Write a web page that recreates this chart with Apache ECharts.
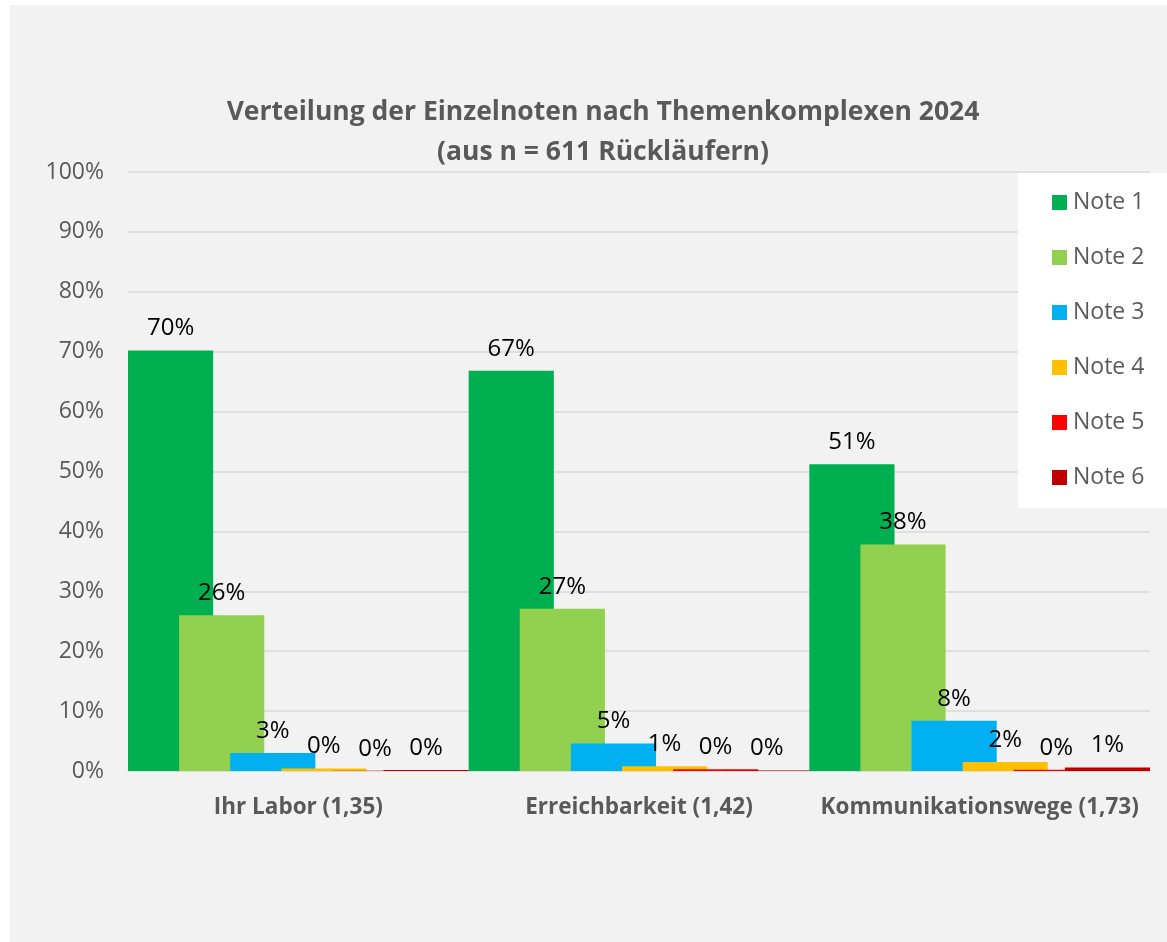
<!DOCTYPE html>
<html>
<head>
<meta charset="utf-8">
<script src="https://cdn.jsdelivr.net/npm/echarts@6/dist/echarts.min.js"></script>
<style>
html,body{margin:0;padding:0;background:#ffffff;}
#chart{position:absolute;left:10px;top:5px;width:1157px;height:937px;background:#f2f2f2;}
</style>
</head>
<body>
<div id="chart"></div>
<script>
const titleLines = ['Verteilung der Einzelnoten nach Themenkomplexen 2024', '(aus n = 611 Rückläufern)'];
const categories = ['Ihr Labor (1,35)', 'Erreichbarkeit (1,42)', 'Kommunikationswege (1,73)'];
const seriesNames = ['Note 1', 'Note 2', 'Note 3', 'Note 4', 'Note 5', 'Note 6'];
const note1 = [70.2, 66.8, 51.2];
const note2 = [26.0, 27.1, 37.8];
const note3 = [3.0, 4.6, 8.4];
const note4 = [0.4, 0.8, 1.5];
const note5 = [0.05, 0.3, 0.2];
const note6 = [0.15, 0.1, 0.6];
const colors = ['#00b050', '#92d050', '#00b0f0', '#ffc000', '#ff0000', '#c00000'];
const yTicks = [0, 10, 20, 30, 40, 50, 60, 70, 80, 90, 100];

const values = [note1, note2, note3, note4, note5, note6];
const FONT = '"Open Sans", "Noto Sans", sans-serif';

const chart = echarts.init(document.getElementById('chart'));
chart.setOption({
  backgroundColor: '#f2f2f2',
  animation: false,
  title: {
    text: titleLines.join('\n'),
    left: 588,
    textAlign: 'center',
    top: 82,
    textStyle: {fontFamily: FONT, fontSize: 26.5, fontWeight: 'bold', color: '#595959', lineHeight: 40, align: 'center'}
  },
  legend: {
    orient: 'vertical',
    left: 1008,
    top: 168,
    backgroundColor: '#ffffff',
    padding: [18, 40, 19, 34],
    itemGap: 32,
    itemWidth: 15,
    itemHeight: 15,
    icon: 'rect',
    textStyle: {fontFamily: FONT, fontSize: 23, color: '#595959', lineHeight: 23, padding: [0, 0, 0, 1]},
    data: seriesNames
  },
  grid: {left: 118, right: 17, top: 167, bottom: 171, containLabel: false},
  xAxis: {
    type: 'category',
    data: categories,
    axisLine: {lineStyle: {color: '#d9d9d9', width: 1.5}},
    axisTick: {show: false},
    axisLabel: {interval: 0, fontFamily: FONT, fontSize: 22.5, fontWeight: 'bold', color: '#595959', margin: 25}
  },
  yAxis: {
    type: 'value',
    min: 0,
    max: 100,
    interval: 10,
    axisLine: {show: false},
    axisTick: {show: false},
    splitLine: {lineStyle: {color: '#d9d9d9', width: 1.5}},
    axisLabel: {
      fontFamily: FONT, fontSize: 23, color: '#595959', margin: 24,
      formatter: v => (yTicks.indexOf(v) >= 0 ? v + '%' : '')
    }
  },
  series: seriesNames.map((name, i) => ({
    name: name,
    type: 'bar',
    data: values[i],
    barCategoryGap: '0%',
    barGap: '-40%',
    itemStyle: {color: colors[i]},
    label: {
      show: true,
      position: 'top',
      distance: 10,
      fontFamily: FONT,
      fontSize: 24,
      color: '#000000',
      formatter: p => Math.round(p.value) + '%'
    }
  }))
});
</script>
</body>
</html>
